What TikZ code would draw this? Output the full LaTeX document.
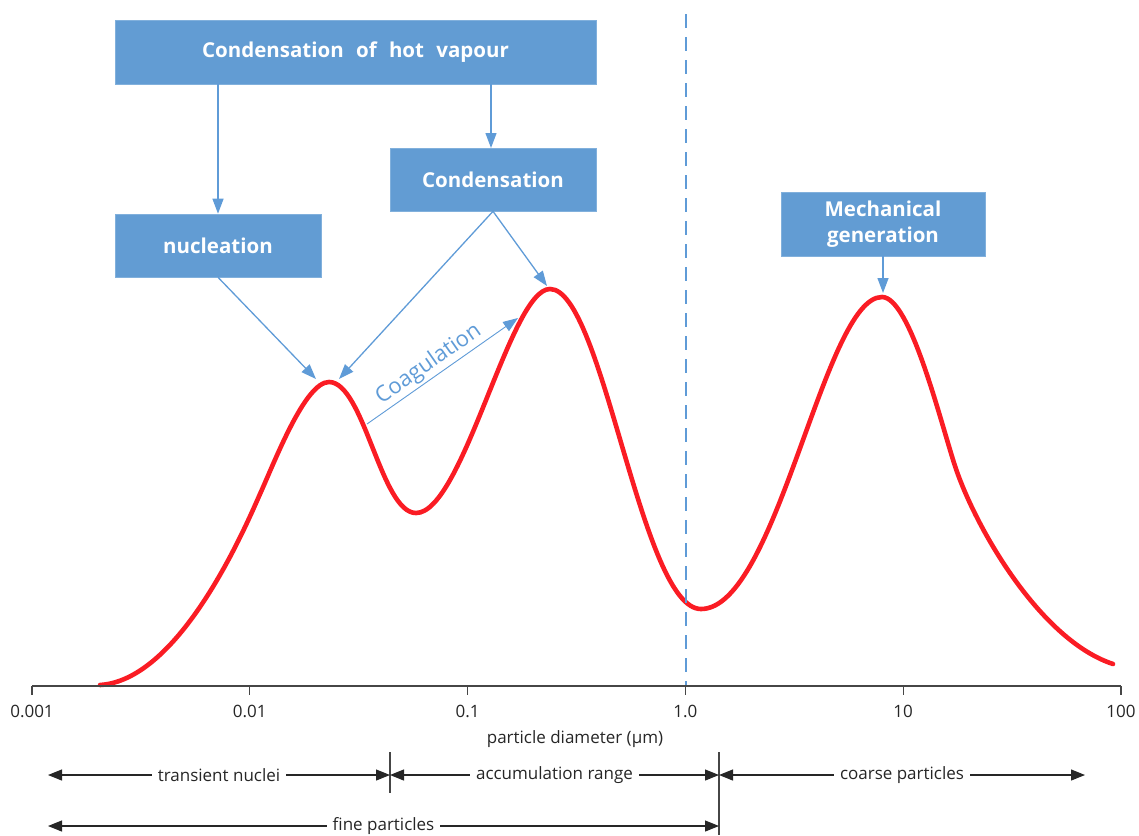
\documentclass[tikz,border=0pt]{standalone}
\usepackage{fontspec}
\setmainfont{Open Sans}
\usepackage{tikz}
\usetikzlibrary{arrows.meta,calc}
\definecolor{boxblue}{RGB}{98,156,211}
\definecolor{lineblue}{RGB}{95,155,215}
\definecolor{curvered}{RGB}{250,28,36}
\definecolor{axisgray}{RGB}{70,70,70}
\tikzset{
  box/.style   = {rectangle, fill=boxblue, draw=boxblue!80!white, line width=0.6pt,
                  text=white, align=center, inner sep=0pt,
                  font=\fontsize{20.5}{26}\selectfont\bfseries},
  bl/.style    = {-{Triangle[length=15pt,width=11pt]}, draw=lineblue, line width=1.3pt},
  thinbl/.style= {bl, line width=0.9pt},
  axis/.style  = {draw=axisgray, line width=1.3pt},
  tick/.style  = {anchor=north, inner sep=0pt, font=\fontsize{17}{20}\selectfont, text=black!85},
  rng/.style   = {{Triangle[length=14pt,width=11pt]}-{Triangle[length=14pt,width=11pt]},
                  line width=1.2pt, draw=black!85},
  rlbl/.style  = {fill=white, inner xsep=6pt, inner ysep=1pt, font=\fontsize{17}{20}\selectfont,
                  text=black!85},
  curve/.style = {draw=curvered, line width=4.6pt, line cap=round},
}

\begin{document}
\begin{tikzpicture}[x=1pt, y=-1pt]
  \useasboundingbox (0,0) rectangle (1139,835);
  % boxes
  \node[box, minimum width=481pt, minimum height=64pt] (vapour) at (355.5,52)
       {Condensation\hspace{0.6em}of\hspace{0.6em}hot\hspace{0.6em}vapour};
  \node[box, minimum width=206pt, minimum height=63pt] (cond) at (493,179.5) {Condensation};
  \node[box, minimum width=206pt, minimum height=63pt] (nucl) at (218,245.5) {nucleation};
  \node[box, minimum width=204pt, minimum height=64pt] (mech) at (883,224) {Mechanical\\generation};

  % size distribution
  \draw[curve] (100,685) .. controls (180,680) and (245,528) .. (260,494)
    .. controls (275,461) and (305,382) .. (329,382)
    .. controls (364,382) and (381,513) .. (416,513)
    .. controls (463,513) and (510,289) .. (550,289)
    .. controls (603,289) and (641,609) .. (701,609)
    .. controls (777,609) and (824,297) .. (882,297)
    .. controls (910,297) and (940,420) .. (955,466)
    .. controls (975,527) and (1040,640) .. (1113,664);

  % peaks hit by the arrows
  \coordinate (pk1a) at (316,379);
  \coordinate (pk1b) at (339,379);
  \coordinate (pk2) at (547,286);
  \coordinate (pk3) at (883,293);
  \coordinate (coagS) at (367,424);
  \coordinate (coagE) at (518,318);

  \draw[bl] (vapour.south -| nucl.north) -- (nucl.north);
  \draw[bl] (vapour.south -| 491,0) -- (491,148);
  \draw[bl] (nucl.south) -- (pk1a);
  \draw[bl] (cond.south) -- (pk1b);
  \draw[bl] (cond.south) -- (pk2);
  \draw[bl] (mech.south) -- (pk3);
  \draw[thinbl] (coagS) -- node[sloped, above, pos=0.46, inner sep=2pt, text=lineblue,
        font=\fontsize{22}{24}\selectfont] {Coagulation} (coagE);

  % 1 micron divide
  \draw[draw=lineblue, line width=1.2pt, dash pattern=on 14pt off 9pt] (686,14) -- (686,686);

  % axis
  \draw[axis] (32,686) -- (1121,686);
  \foreach \t [count=\i from 0] in {0.001,0.01,0.1,1.0,10,100} {
    \draw[axis] (32+217.8*\i,686) -- ++(0,9);
    \node[tick] (tl\i) at (32+217.8*\i,705) {\t};
  }
  \node[tick] (xlab) at (575,730) {particle diameter (µm)};

  % size ranges
  \coordinate (r0) at (48,775);
  \coordinate (r1) at (390,775);
  \coordinate (r2) at (719,775);
  \coordinate (r3) at (1085,775);
  \coordinate (f0) at (48,826);
  \coordinate (f1) at (719,826);
  \draw[axis, line width=1.1pt] (390,752) -- (390,793);
  \draw[axis, line width=1.1pt] (719,752) -- (719,835);
  \draw[rng] (r0) -- node[rlbl] {transient nuclei} (r1);
  \draw[rng] (r1) -- node[rlbl] {accumulation range} (r2);
  \draw[rng] (r2) -- node[rlbl] {coarse particles} (r3);
  \draw[rng] (f0) -- node[rlbl] {fine particles} (f1);
\end{tikzpicture}
\end{document}
